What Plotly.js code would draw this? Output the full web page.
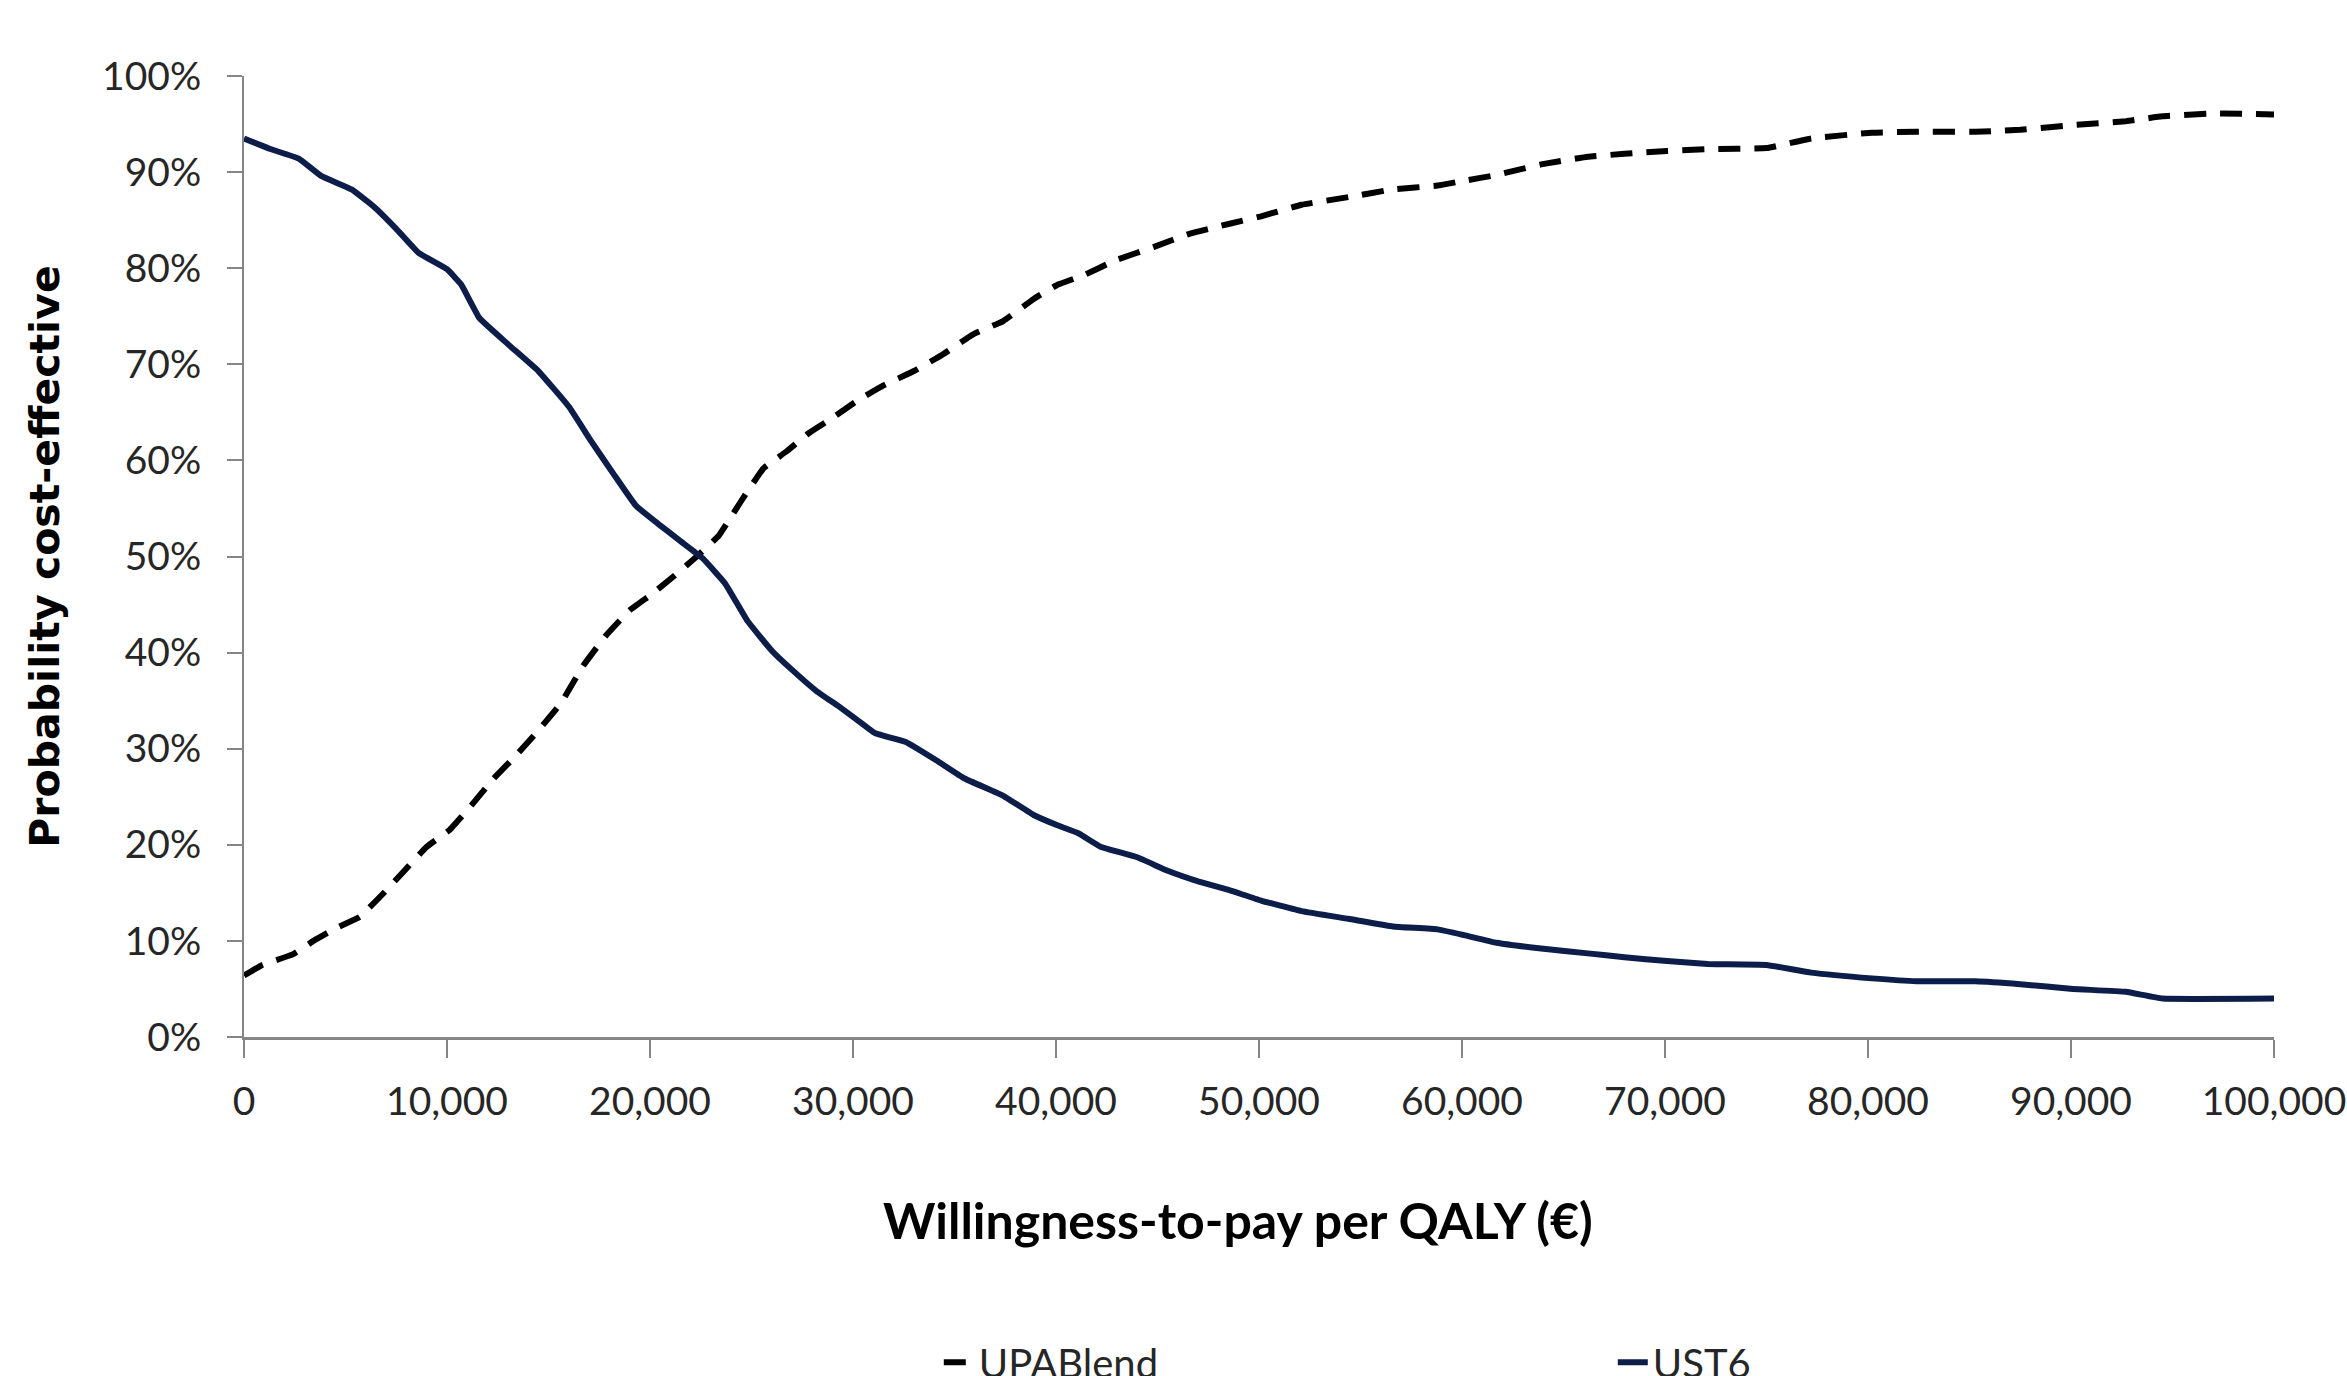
<!DOCTYPE html>
<html>
<head>
<meta charset="utf-8">
<script src="https://cdn.plot.ly/plotly-3.0.1.min.js"></script>
<style>
  html, body { margin: 0; padding: 0; background: #ffffff; }
  #chart { width: 2347px; height: 1376px; }
</style>
</head>
<body>
<div id="chart"></div>
<script>
// Willingness-to-pay (€) and probability cost-effective (%)
const wtpUPABlend = [0, 900, 2400, 3500, 4600, 5700, 6800, 7900, 9000, 10100, 11200, 12300, 13400, 14500, 15600, 16700, 17800, 19000, 20100, 21200, 22300, 23400, 24500, 25600, 26700, 27800, 28900, 30200, 31500, 33000, 34400, 35900, 37400, 38900, 40100, 41400, 42900, 44800, 46600, 48500, 50100, 52100, 54400, 56600, 58800, 60100, 61700, 63900, 66200, 68000, 70100, 72100, 75000, 77200, 80200, 82400, 85300, 87500, 90100, 92700, 94500, 97100, 100000];
const probUPABlend = [6.4, 7.5, 8.6, 10.1, 11.4, 12.5, 14.8, 17.3, 19.8, 21.5, 24.1, 26.9, 29.3, 31.9, 34.7, 38.6, 41.7, 44.4, 46.1, 48.0, 50.0, 52.2, 55.8, 59.2, 60.9, 62.8, 64.3, 66.2, 67.8, 69.3, 71.0, 73.1, 74.5, 76.8, 78.3, 79.3, 80.8, 82.2, 83.6, 84.6, 85.4, 86.6, 87.4, 88.2, 88.6, 89.1, 89.7, 90.8, 91.6, 91.9, 92.2, 92.4, 92.5, 93.5, 94.1, 94.2, 94.2, 94.4, 94.9, 95.3, 95.8, 96.1, 96.0];

const wtpUST6 = [0, 1300, 2700, 3800, 5300, 6400, 7500, 8600, 10000, 10700, 11600, 13000, 14500, 16000, 17100, 18200, 19300, 20400, 21500, 22600, 23700, 24800, 26000, 27000, 28200, 29300, 30200, 31100, 32600, 34100, 35500, 37400, 38900, 40100, 41100, 42200, 44000, 45500, 47000, 48500, 50100, 52100, 54400, 56600, 58800, 60100, 61700, 63900, 66200, 68000, 70100, 72100, 75000, 77200, 80200, 82400, 85300, 87500, 90100, 92700, 94500, 100000];
const probUST6 = [93.5, 92.4, 91.4, 89.6, 88.2, 86.4, 84.1, 81.6, 79.9, 78.3, 74.8, 72.1, 69.3, 65.6, 62.0, 58.6, 55.3, 53.4, 51.6, 49.8, 47.2, 43.3, 40.2, 38.2, 36.0, 34.4, 33.0, 31.6, 30.7, 28.8, 26.9, 25.1, 23.1, 22.0, 21.2, 19.8, 18.7, 17.3, 16.2, 15.3, 14.2, 13.1, 12.3, 11.5, 11.2, 10.6, 9.8, 9.2, 8.7, 8.3, 7.9, 7.6, 7.5, 6.7, 6.1, 5.8, 5.8, 5.5, 5.0, 4.7, 4.0, 4.0];

const seriesNames = ["UPABlend", "UST6"];
const xTitle = "Willingness-to-pay per QALY (€)";
const yTitle = "Probability cost-effective";

const traces = [
  {
    x: wtpUPABlend, y: probUPABlend, name: seriesNames[0],
    type: "scatter", mode: "lines",
    line: { color: "#000000", width: 6, dash: "22px,14px", shape: "spline", smoothing: 0.3 }
  },
  {
    x: wtpUST6, y: probUST6, name: seriesNames[1],
    type: "scatter", mode: "lines",
    line: { color: "#0c1d4a", width: 6, shape: "spline", smoothing: 0.3 }
  }
];

const axisGray = "#868686";
const layout = {
  width: 2347, height: 1376,
  paper_bgcolor: "#ffffff", plot_bgcolor: "#ffffff",
  margin: { l: 244, r: 73, t: 76, b: 339, pad: 0 },
  showlegend: true,
  legend: {
    orientation: "h",
    xref: "container", yref: "container",
    x: 0.4, xanchor: "left",
    y: 0.01, yanchor: "middle",
    entrywidth: 629, entrywidthmode: "pixels",
    font: { family: "Lato, sans-serif", size: 40, color: "#262626" },
    bgcolor: "rgba(0,0,0,0)"
  },
  annotations: [
    {
      text: xTitle, xref: "paper", yref: "paper",
      x: 0.4897, y: -0.19, xanchor: "center", yanchor: "middle",
      showarrow: false,
      font: { family: "Lato, sans-serif", size: 50, color: "#000000", weight: "bold" }
    }
  ],
  xaxis: {
    range: [0, 100000], dtick: 10000, tick0: 0,
    tickformat: ",d",
    showgrid: false, zeroline: false,
    showline: true, linecolor: axisGray, linewidth: 3,
    ticks: "outside", ticklen: 18, tickwidth: 2, tickcolor: axisGray,
    ticklabelstandoff: 10,
    tickfont: { family: "Lato, sans-serif", size: 39, color: "#262626" },
    automargin: false
  },
  yaxis: {
    range: [0, 100], dtick: 10, tick0: 0,
    ticksuffix: "%",
    showgrid: false, zeroline: false,
    showline: true, linecolor: axisGray, linewidth: 2,
    ticks: "outside", ticklen: 15, tickwidth: 2, tickcolor: axisGray,
    ticklabelstandoff: 18,
    tickfont: { family: "Lato, sans-serif", size: 39, color: "#262626" },
    automargin: false,
    title: { text: yTitle, standoff: 30, font: { family: "DejaVu Sans, sans-serif", size: 41, color: "#000000", weight: "bold" } }
  }
};

Plotly.newPlot("chart", traces, layout, { displayModeBar: false, staticPlot: true });
</script>
</body>
</html>
